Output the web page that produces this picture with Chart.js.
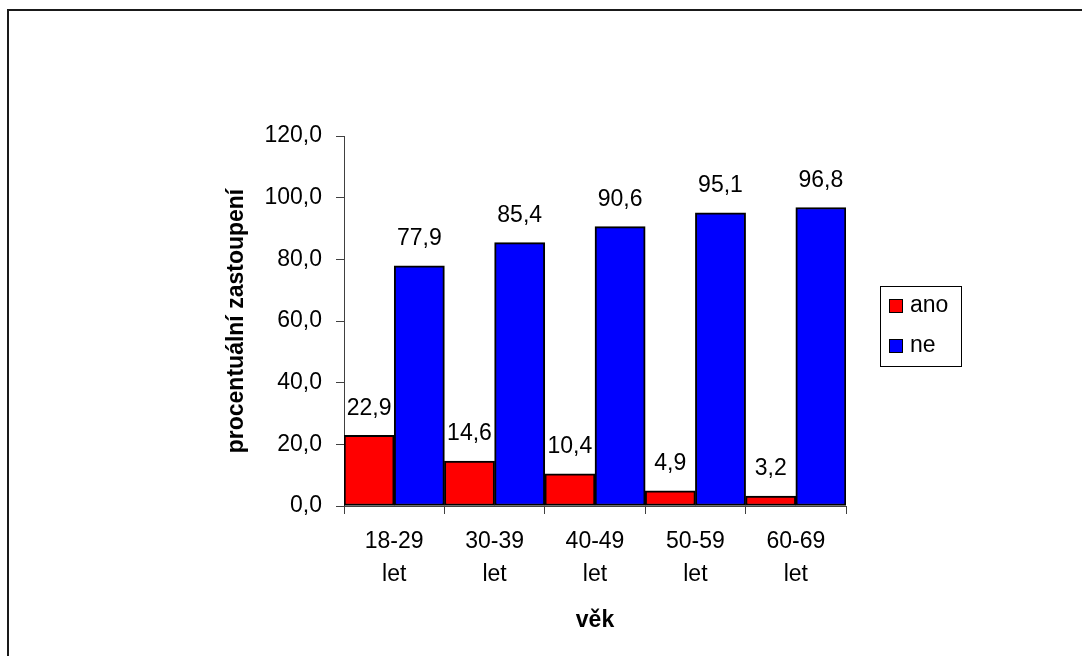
<!DOCTYPE html>
<html lang="cs">

<head>
  <title>Věk</title>
  <meta charset="UTF-8">
  <script src="https://cdn.jsdelivr.net/npm/chart.js"></script>
  <style>
    body { margin: 0; background: #fff; }
  </style>
</head>

<body>
  <canvas id="chart" width="1082" height="656"></canvas>
</body>

<script>
  // kategorie a hodnoty grafu
  const kategorie = [['18-29', 'let'], ['30-39', 'let'], ['40-49', 'let'], ['50-59', 'let'], ['60-69', 'let']];
  const nazvyRad = ['ano', 'ne'];
  const hodnotyAno = [22.9, 14.6, 10.4, 4.9, 3.2];
  const hodnotyNe = [77.9, 85.4, 90.6, 95.1, 96.8];
  const popiskyY = ['0,0', '20,0', '40,0', '60,0', '80,0', '100,0', '120,0'];

  const pismo = '"Liberation Sans", Arial, sans-serif';
  Chart.defaults.font.family = pismo;
  Chart.defaults.color = '#000';

  function formatCisla(v) {
    return v.toFixed(1).replace('.', ',');
  }

  // ramecek kolem celeho grafu
  const ramecek = {
    id: 'ramecek',
    beforeDraw(chart) {
      const ctx = chart.ctx;
      ctx.save();
      ctx.fillStyle = '#fff';
      ctx.fillRect(0, 0, chart.width, chart.height);
      ctx.strokeStyle = '#1a1a1a';
      ctx.lineWidth = 2;
      ctx.strokeRect(8, 10, 1200, 800);
      ctx.restore();
    }
  };

  // hodnoty nad sloupci
  const popiskyHodnot = {
    id: 'popiskyHodnot',
    afterDatasetsDraw(chart) {
      const ctx = chart.ctx;
      ctx.save();
      ctx.fillStyle = '#000';
      ctx.font = '23px ' + pismo;
      ctx.textAlign = 'center';
      ctx.textBaseline = 'middle';
      chart.data.datasets.forEach((ds, i) => {
        chart.getDatasetMeta(i).data.forEach((sloupec, j) => {
          ctx.fillText(formatCisla(ds.data[j]), sloupec.x, sloupec.y - 27);
        });
      });
      ctx.restore();
    }
  };

  // legenda v ramecku vpravo
  const legenda = {
    id: 'legenda',
    afterDraw(chart) {
      const ctx = chart.ctx;
      ctx.save();
      ctx.strokeStyle = '#000';
      ctx.lineWidth = 1;
      ctx.strokeRect(880.5, 286.5, 81, 80);
      ctx.font = '23px ' + pismo;
      ctx.textBaseline = 'middle';
      chart.data.datasets.forEach((ds, i) => {
        const y = 306 + i * 40;
        ctx.fillStyle = ds.backgroundColor;
        ctx.fillRect(889, y - 7, 14, 14);
        ctx.strokeRect(889.5, y - 6.5, 13, 13);
        ctx.fillStyle = '#000';
        ctx.fillText(ds.label, 910, y);
      });
      ctx.restore();
    }
  };

  const dados = {
    labels: kategorie,
    datasets: [{
      label: nazvyRad[0],
      data: hodnotyAno,
      backgroundColor: '#FF0000',
      borderColor: '#000',
      borderWidth: 2,
      borderSkipped: false,
      categoryPercentage: 1,
      barPercentage: 1
    }, {
      label: nazvyRad[1],
      data: hodnotyNe,
      backgroundColor: '#0000FF',
      borderColor: '#000',
      borderWidth: 2,
      borderSkipped: false,
      categoryPercentage: 1,
      barPercentage: 1
    }]
  };

  const config = {
    type: 'bar',
    data: dados,
    options: {
      responsive: false,
      animation: false,
      layout: { padding: { left: 220, top: 136, right: 236, bottom: 0 } },
      plugins: {
        legend: { display: false },
        tooltip: { enabled: false }
      },
      scales: {
        x: {
          grid: { drawOnChartArea: false, drawTicks: true, tickLength: 8, color: '#404040', offset: true },
          border: { color: '#404040', width: 1 },
          ticks: { color: '#000', font: { size: 23, lineHeight: 1.43 }, padding: 11, maxRotation: 0, autoSkip: false },
          title: { display: true, text: 'věk', color: '#000', font: { size: 23, weight: 'bold' }, padding: { top: 0, bottom: 22 } },
          afterFit: (osa) => { osa.height = 150; }
        },
        y: {
          min: 0,
          max: 120,
          grid: { drawOnChartArea: false, drawTicks: true, tickLength: 8, color: '#404040' },
          border: { color: '#404040', width: 1 },
          ticks: {
            stepSize: 20,
            color: '#000',
            font: { size: 23 },
            padding: 14,
            callback: (v, i) => popiskyY[i]
          },
          title: { display: true, text: 'procentuální zastoupení', color: '#000', font: { size: 23, weight: 'bold' }, padding: { top: 3, bottom: 0 } },
          afterFit: (osa) => { osa.width = 124; }
        }
      }
    },
    plugins: [ramecek, popiskyHodnot, legenda]
  };

  const myChart = new Chart(document.getElementById('chart'), config);
</script>

</html>
